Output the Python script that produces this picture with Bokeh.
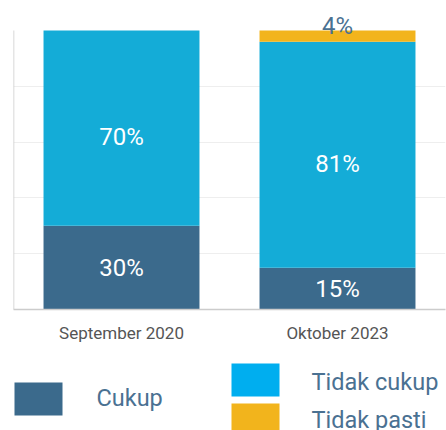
from bokeh.plotting import figure
from bokeh.models import ColumnDataSource, FactorRange, Range1d, FixedTicker
from bokeh.layouts import column
from bokeh.core.properties import value
from bokeh.embed import file_html
from bokeh.resources import INLINE

# ---- data ----
categories = ["September 2020", "Oktober 2023"]
series = ["Cukup", "Tidak cukup", "Tidak pasti"]
cukup = [30, 15]
tidak_cukup = [70, 81]
tidak_pasti = [0, 4]

bar_colors = ["#3b6a8c", "#14acd7", "#f2b41c"]
legend_colors = ["#3b6a8c", "#00aeef", "#f2b41c"]
text_blue = "#4a7192"
FONT = "Roboto"

values = {"Cukup": cukup, "Tidak cukup": tidak_cukup, "Tidak pasti": tidak_pasti}

# ---- main chart ----
p = figure(x_range=FactorRange(*categories), y_range=Range1d(0, 107.9),
           width=446, height=350, output_backend="svg", toolbar_location=None,
           min_border_left=13, min_border_right=1, min_border_top=8, min_border_bottom=41)
p.outline_line_color = None
p.background_fill_color = "white"
p.yaxis.visible = False

p.ygrid.ticker = FixedTicker(ticks=[20, 40, 60, 80])
p.ygrid.grid_line_color = "#eeeeee"
p.xgrid.grid_line_color = None

# left axis line (0..100), using the range's synthetic left edge
p.segment(x0=[0], y0=[0], x1=[0], y1=[100], line_color="#cccccc", line_width=1.5)

src = ColumnDataSource(dict(cat=categories, **values))
p.vbar_stack(series, x="cat", width=0.722, color=bar_colors, source=src, line_color=None)

# segment labels
label_cfg = {"Cukup": ("white", 0), "Tidak cukup": ("white", 9), "Tidak pasti": (text_blue, -10)}
bottom = [0] * len(categories)
for s in series:
    xs, ys, ts = [], [], []
    for i, c in enumerate(categories):
        v = values[s][i]
        if v > 0:
            xs.append(c)
            ys.append(bottom[i] + v / 2)
            ts.append(f"{v}%")
        bottom[i] += v
    col, off = label_cfg[s]
    p.text(x=xs, y=ys, text=ts, text_align="center", text_baseline="middle",
           text_color=col, text_font=value(FONT), text_font_size="24px", y_offset=off)

p.xaxis.axis_line_color = "#cccccc"
p.xaxis.axis_line_width = 1.5
p.xaxis.major_tick_line_color = None
p.xaxis.minor_tick_line_color = None
p.xaxis.major_tick_out = 0
p.xaxis.major_label_standoff = 13
p.xaxis.major_label_text_font = FONT
p.xaxis.major_label_text_font_size = "17px"
p.xaxis.major_label_text_color = "#555555"

# ---- legend (drawn as its own small figure, coords = page pixels) ----
# its frame is aligned with the chart's frame (x 13..445) by the column layout
leg = figure(x_range=Range1d(13, 445), y_range=Range1d(430, 350), width=446, height=80,
             output_backend="svg", toolbar_location=None,
             min_border=0, min_border_left=13, min_border_right=1,
             min_border_top=0, min_border_bottom=0)
leg.axis.visible = False
leg.grid.visible = False
leg.outline_line_color = None

# item layout: (swatch center x, swatch center y, text x, text middle y)
leg_layout = [(38, 398.5, 96, 397), (255, 379.5, 311, 381), (255, 419.5, 311, 419)]
for name, c, (sx, sy, tx, ty) in zip(series, legend_colors, leg_layout):
    leg.rect(x=[sx], y=[sy], width=48, height=33, color=c, line_color=None)
    leg.text(x=[tx], y=[ty], text=[name], text_baseline="middle", text_align="left",
             text_color=text_blue, text_font=value(FONT), text_font_size="23.5px")

layout = column(p, leg, spacing=0)
open("out.html", "w").write(file_html(layout, INLINE))
